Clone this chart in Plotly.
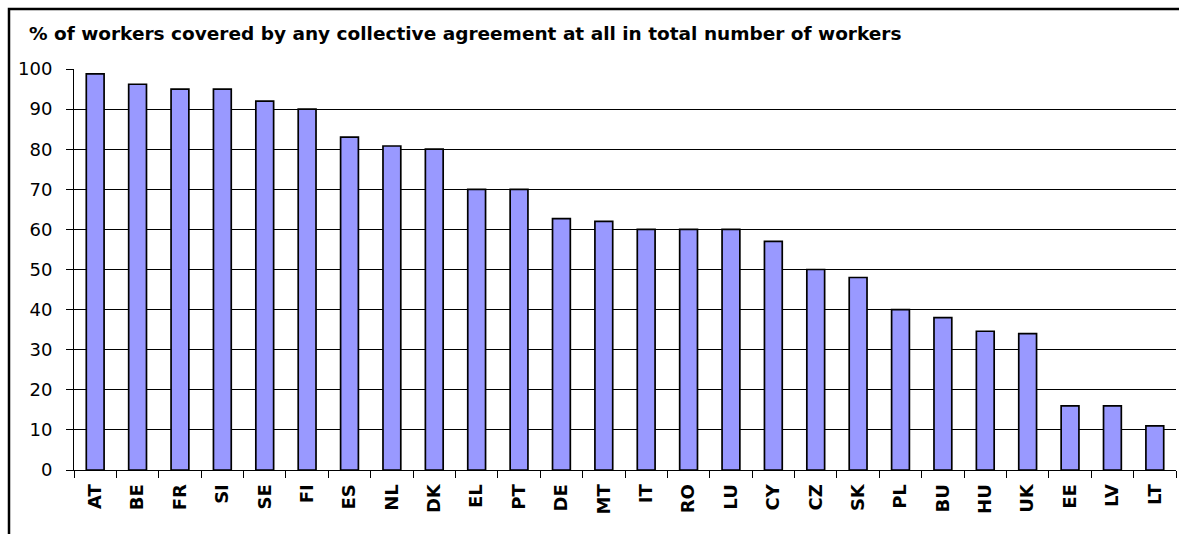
import plotly.graph_objects as go

countries = ["AT", "BE", "FR", "SI", "SE", "FI", "ES", "NL", "DK", "EL", "PT", "DE", "MT",
             "IT", "RO", "LU", "CY", "CZ", "SK", "PL", "BU", "HU", "UK", "EE", "LV", "LT"]
coverage = [98.8, 96.2, 95, 95, 92, 90, 83, 80.8, 80, 70, 70, 62.7, 62,
            60, 60, 60, 57, 50, 48, 40, 38, 34.6, 34, 16, 16, 11]
y_ticks = [0, 10, 20, 30, 40, 50, 60, 70, 80, 90, 100]
title_text = "% of workers covered by any collective agreement at all in total number of workers"

W, H = 1179, 534
L, R, T, B = 74, 3, 69, 64
pw, ph = W - L - R, H - T - B

def px_x(p):
    return (p - L) / pw

def px_y(p):
    return (H - B - p) / ph

fig = go.Figure()
fig.add_trace(go.Bar(
    x=countries, y=coverage,
    marker=dict(color="#9999FF", line=dict(color="#000000", width=1.7)),
    width=0.42,
    hoverinfo="x+y",
))

fig.update_layout(
    width=W, height=H,
    margin=dict(l=L, r=R, t=T, b=B),
    paper_bgcolor="white", plot_bgcolor="white",
    showlegend=False,
    font=dict(family="DejaVu Sans", color="#000000"),
    title=dict(text="<b>" + title_text + "</b>", x=29 / W, xref="container", xanchor="left",
               y=1 - 33.5 / H, yref="container", yanchor="middle",
               font=dict(family="DejaVu Sans", size=18.5, color="#000000")),
    xaxis=dict(
        type="category", showline=True, linecolor="#000000", linewidth=1,
        ticks="outside", ticklen=7, tickcolor="#000000", tickson="boundaries",
        ticklabelstandoff=6,
        tickangle=-90, tickfont=dict(family="DejaVu Sans", size=18, color="#000000", weight="bold"),
        showgrid=False, zeroline=False,
    ),
    yaxis=dict(
        range=[0, 100], tickvals=y_ticks, showline=True, linecolor="#000000", linewidth=1,
        ticks="outside", ticklen=7, tickcolor="#000000", ticklabelstandoff=10,
        tickfont=dict(family="DejaVu Sans", size=18, color="#000000"),
        showgrid=True, gridcolor="#000000", gridwidth=1, zeroline=False,
    ),
    shapes=[dict(
        type="path", xref="paper", yref="paper",
        path=f"M {px_x(9)} {px_y(534)} L {px_x(9)} {px_y(9)} L {px_x(1179)} {px_y(9)}",
        line=dict(color="#000000", width=2.5),
    )],
)

fig.write_html("out.html", config={"displayModeBar": False},
               post_script="document.body.style.margin='0';document.body.style.overflow='hidden';")
